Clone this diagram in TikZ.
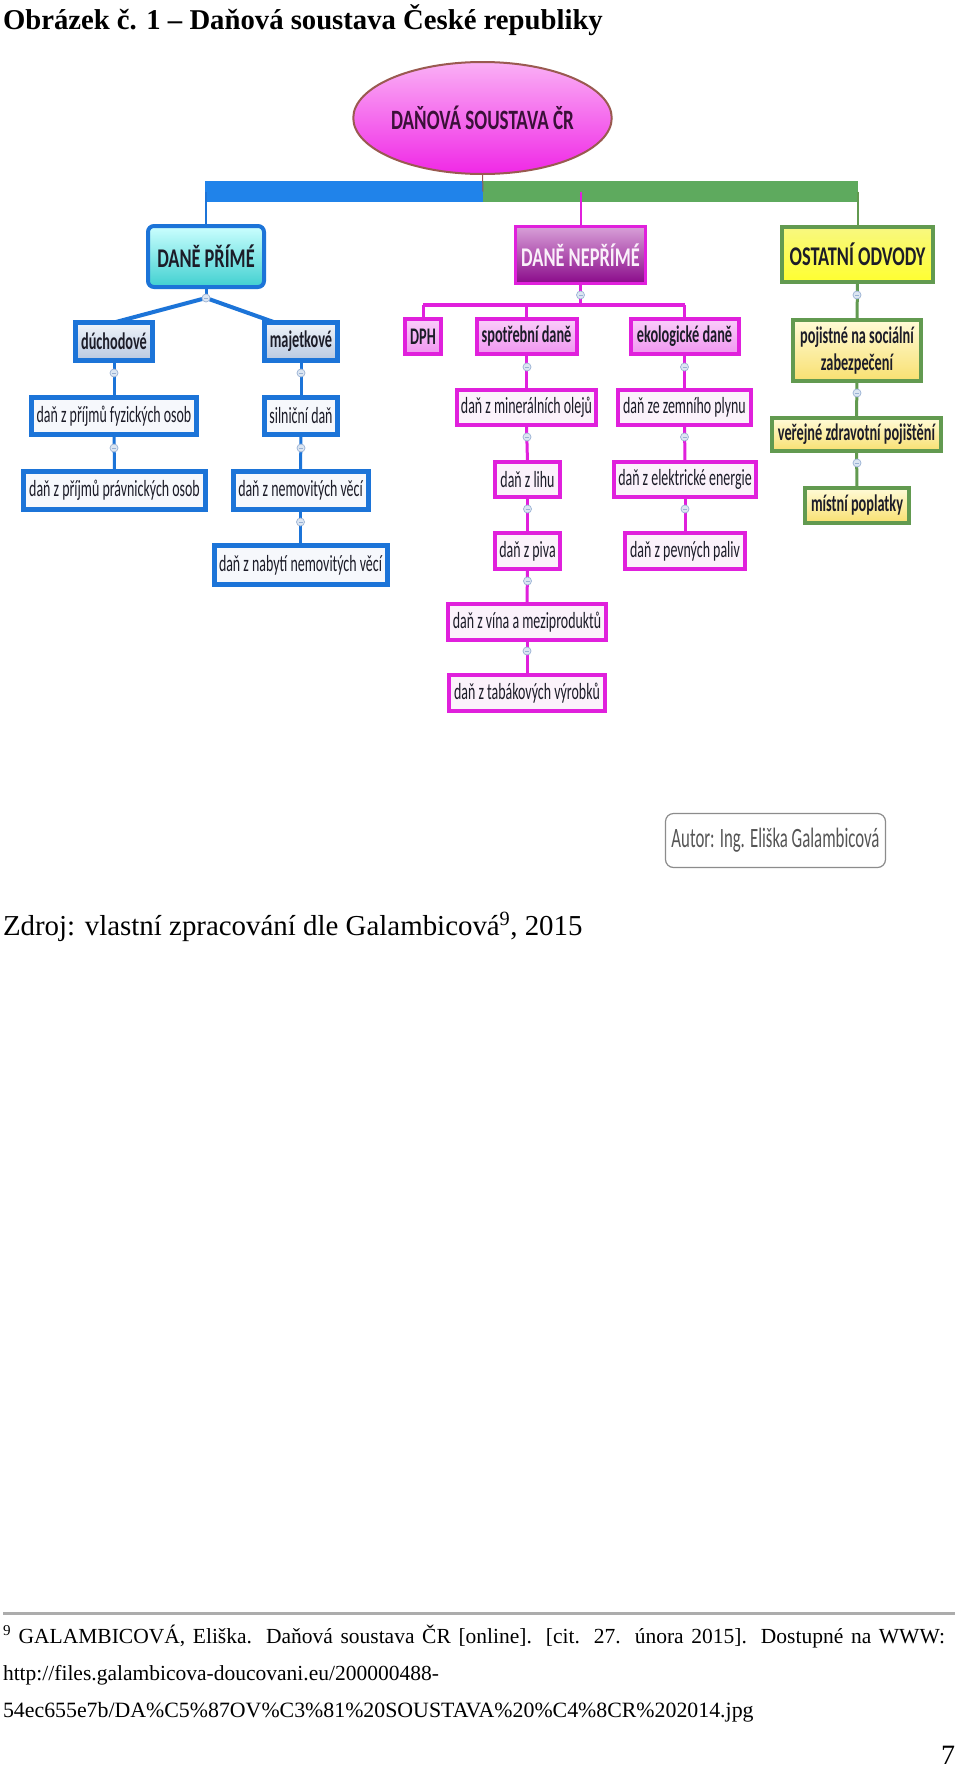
\documentclass[tikz,border=0pt]{standalone}
\usepackage{fontspec}
\setmainfont{Liberation Serif}
\newfontfamily\mmf[FakeStretch=0.68]{Carlito}
\newfontfamily\mmg[FakeStretch=0.6]{Carlito}
\usetikzlibrary{shapes.geometric,calc}
\definecolor{blueC}{HTML}{2083EA}
\definecolor{blueB}{HTML}{1C74D8}
\definecolor{greenC}{HTML}{5EAA5E}
\definecolor{greenB}{HTML}{629A50}
\definecolor{magC}{HTML}{E020DC}
\definecolor{txt}{HTML}{1C1C28}
\definecolor{knobF}{HTML}{DCE6F2}
\definecolor{knobD}{HTML}{9AB2D4}
\definecolor{rootB}{HTML}{9A5A50}
\definecolor{gray1}{HTML}{555555}
\pgfdeclarelayer{bg}
\pgfsetlayers{bg,main}
\tikzset{
  every node/.style={inner sep=0pt, outer sep=0pt},
  topfont/.style={font=\mmf\fontsize{27pt}{30pt}\selectfont\bfseries},
  midfont/.style={font=\mmg\fontsize{23.8pt}{27pt}\selectfont\bfseries},
  leaffont/.style={font=\mmg\fontsize{23.2pt}{26pt}\selectfont},
  lvlblue/.style={draw=blueB, line width=4pt, rounded corners=6pt, top color=cyan!20, bottom color={rgb,255:red,64;green,208;blue,208}, text=txt, topfont},
  lvlmag/.style={draw=magC, line width=3pt, top color={rgb,255:red,216;green,160;blue,216}, bottom color={rgb,255:red,138;green,10;blue,138}, text={rgb,255:red,250;green,240;blue,250}, topfont},
  lvlgreen/.style={draw=greenB, line width=4pt, top color={rgb,255:red,248;green,248;blue,128}, bottom color={rgb,255:red,255;green,255;blue,48}, text=txt, topfont},
  midblue/.style={draw=blueB, line width=5pt, top color={rgb,255:red,240;green,244;blue,250}, bottom color={rgb,255:red,184;green,200;blue,224}, text=txt, midfont},
  midmag/.style={draw=magC, line width=4pt, top color={rgb,255:red,250;green,205;blue,250}, bottom color={rgb,255:red,240;green,150;blue,240}, text=txt, midfont},
  midgreen/.style={draw=greenB, line width=4pt, top color={rgb,255:red,255;green,251;blue,216}, bottom color={rgb,255:red,248;green,224;blue,112}, text=txt, midfont},
  leafblue/.style={draw=blueB, line width=5pt, fill={rgb,255:red,246;green,248;blue,252}, text=txt, leaffont},
  leafmag/.style={draw=magC, line width=4pt, fill={rgb,255:red,251;green,242;blue,251}, text=txt, leaffont},
  knob/.style={circle, minimum size=8pt, fill=knobF, draw=knobD, line width=0.7pt,
    path picture={\draw[knobD, line width=0.6pt] ([xshift=-2pt]path picture bounding box.center) -- ([xshift=2pt]path picture bounding box.center);}},
  bconn/.style={draw=blueB, line width=3pt},
  mconn/.style={draw=magC, line width=3pt},
  gconn/.style={draw=greenB, line width=3pt},
}
\begin{document}
\begin{tikzpicture}[x=1pt,y=-1pt]
\useasboundingbox (0,0) rectangle (960,1767);
\begin{pgfonlayer}{bg}
\fill[white] (0,0) rectangle (960,1767);
\end{pgfonlayer}

% title
\node[anchor=base west] (title) at (3,29) {\fontsize{28.7pt}{30pt}\selectfont\bfseries Obrázek č. 1 – Daňová soustava České republiky};

% root
\node[ellipse, minimum width=245pt, minimum height=112pt, draw=rootB, line width=2pt,
  top color={rgb,255:red,250;green,176;blue,245}, bottom color={rgb,255:red,240;green,40;blue,230},
  text={rgb,255:red,58;green,16;blue,56}, font=\mmf\fontsize{28pt}{30pt}\selectfont\bfseries] (root) at (482.5,118) {DAŇOVÁ SOUSTAVA ČR};

% level 1
\node[lvlblue, minimum width=116pt, minimum height=61pt] (prime) at (206,256.5) {DANĚ PŘÍMÉ};
\node[lvlmag, minimum width=130pt, minimum height=57pt] (nep) at (580.5,255) {DANĚ NEPŘÍMÉ};
\node[lvlgreen, minimum width=151pt, minimum height=55pt] (ost) at (857.5,254.5) {OSTATNÍ ODVODY};

% left branch
\node[midblue, minimum width=77pt, minimum height=38pt] (duch) at (114,341.5) {dúchodové};
\node[midblue, minimum width=73pt, minimum height=38pt] (maj) at (301,341.5) {majetkové};
\node[leafblue, minimum width=165pt, minimum height=37pt] (fyz) at (114,416) {daň z příjmů fyzických osob};
\node[leafblue, minimum width=182pt, minimum height=38pt] (prav) at (114.5,490.5) {daň z příjmů právnických osob};
\node[leafblue, minimum width=73pt, minimum height=37pt] (siln) at (301,416) {silniční daň};
\node[leafblue, minimum width=135pt, minimum height=38pt] (nemo) at (300.5,490.5) {daň z nemovitých věcí};
\node[leafblue, minimum width=173pt, minimum height=39pt] (naby) at (300.5,565) {daň z nabytí nemovitých věcí};

% middle branch
\node[midmag, minimum width=36pt, minimum height=35pt] (dph) at (423,336.5) {DPH};
\node[midmag, minimum width=100pt, minimum height=35pt] (spot) at (526.5,336.5) {spotřební daně};
\node[midmag, minimum width=108pt, minimum height=35pt] (eko) at (684.5,336.5) {ekologické daně};
\node[leafmag, minimum width=139pt, minimum height=35pt] (miner) at (526.5,407.5) {daň z minerálních olejů};
\node[leafmag, minimum width=65pt, minimum height=35pt] (lihu) at (527.5,479.5) {daň z lihu};
\node[leafmag, minimum width=65pt, minimum height=36pt] (piva) at (527.5,551) {daň z piva};
\node[leafmag, minimum width=158pt, minimum height=36pt] (vina) at (527,622) {daň z vína a meziproduktů};
\node[leafmag, minimum width=156pt, minimum height=36pt] (taba) at (527,693) {daň z tabákových výrobků};
\node[leafmag, minimum width=133pt, minimum height=35pt] (zemn) at (684.5,407.5) {daň ze zemního plynu};
\node[leafmag, minimum width=142pt, minimum height=35pt] (elek) at (685,479.5) {daň z elektrické energie};
\node[leafmag, minimum width=120pt, minimum height=36pt] (pevn) at (685,551) {daň z pevných paliv};

% right branch
\node[midgreen, minimum width=128pt, minimum height=61pt, align=center] (poj) at (857,350.5) {pojistné na sociální\\zabezpečení};
\node[midgreen, minimum width=169pt, minimum height=33pt] (vere) at (856.5,434.5) {veřejné zdravotní pojištění};
\node[midgreen, minimum width=104pt, minimum height=35pt] (mist) at (857,505.5) {místní poplatky};

% knobs
\node[knob] (k0) at (206,298) {};
\node[knob] (k1) at (114,373) {};
\node[knob] (k2) at (114,448) {};
\node[knob] (k3) at (301,373) {};
\node[knob] (k4) at (301,448) {};
\node[knob] (k5) at (300.5,522) {};
\node[knob] (k6) at (580.5,295) {};
\node[knob] (k7) at (527,367) {};
\node[knob] (k8) at (527,437) {};
\node[knob] (k9) at (527.5,509) {};
\node[knob] (k10) at (527.5,581) {};
\node[knob] (k11) at (527,651) {};
\node[knob] (k12) at (684.5,367) {};
\node[knob] (k13) at (684.5,437) {};
\node[knob] (k14) at (685,509) {};
\node[knob] (k15) at (857,295) {};
\node[knob] (k16) at (857,393) {};
\node[knob] (k17) at (857,463) {};

% bar coordinates
\coordinate (barL) at (205,191.5);
\coordinate (barM) at (483,191.5);
\coordinate (barR) at (858,191.5);
\coordinate (mbL) at (423,305);
\coordinate (mbR) at (684.5,305);

\begin{pgfonlayer}{bg}
\draw[line width=21pt, blueC] (barL) -- (barM);
\draw[line width=21pt, greenC] (barM) -- (barR);
\draw[line width=1pt, rootB] (root.south) -- (barM);
\draw[blueB, line width=2pt] (prime.north |- barL) -- (prime.north);
\draw[magC, line width=2pt] (nep.north |- barM) -- (nep.north);
\draw[greenB, line width=2pt] (ost.north |- barR) -- (ost.north);
% left
\draw[bconn] (prime.south) -- (k0);
\draw[blueB, line width=4pt] (k0) -- (duch.north);
\draw[blueB, line width=4pt] (k0) -- ([xshift=-26pt]maj.north);
\draw[bconn] (duch.south) -- (fyz.north);
\draw[bconn] (fyz.south) -- (prav.north);
\draw[bconn] (maj.south) -- (siln.north);
\draw[bconn] (siln.south) -- (nemo.north);
\draw[bconn] (nemo.south) -- (naby.north);
% middle
\draw[mconn] (nep.south) -- (nep.south |- mbL);
\draw[magC, line width=4pt] (mbL) -- (mbR);
\draw[mconn] (mbL) -- (dph.north);
\draw[mconn] (spot.north |- mbL) -- (spot.north);
\draw[mconn] (mbR) -- (eko.north);
\draw[mconn] (spot.south) -- (miner.north);
\draw[mconn] (miner.south) -- (lihu.north);
\draw[mconn] (lihu.south) -- (piva.north);
\draw[mconn] (piva.south) -- (vina.north);
\draw[mconn] (vina.south) -- (taba.north);
\draw[mconn] (eko.south) -- (zemn.north);
\draw[mconn] (zemn.south) -- (elek.north);
\draw[mconn] (elek.south) -- (pevn.north);
% right
\draw[gconn] (ost.south) -- (poj.north);
\draw[gconn] (poj.south) -- (vere.north);
\draw[gconn] (vere.south) -- (mist.north);
\end{pgfonlayer}

% author box
\node[draw={rgb,255:red,140;green,140;blue,140}, line width=1.2pt, rounded corners=8pt, fill=white,
  minimum width=220pt, minimum height=54pt, text=gray1, font=\mmg\fontsize{28pt}{30pt}\selectfont] (autor) at (775.5,840.5) {Autor: Ing. Eliška Galambicová};

% source line
\node[anchor=base west] (zdroj) at (3,935) {\fontsize{28.9pt}{31pt}\selectfont Zdroj: vlastní zpracování dle Galambicová\textsuperscript{9}, 2015};

% footnote
\coordinate (ruleL) at (3,1613);
\coordinate (ruleR) at (955,1613);
\draw[line width=3pt, gray!65] (ruleL) -- (ruleR);
\node[anchor=base west] (fn1) at (3,1643) {\fontsize{21.5pt}{24pt}\selectfont\makebox[942pt][s]{\textsuperscript{9} GALAMBICOVÁ, Eliška. Daňová soustava ČR [online]. [cit. 27. února 2015]. Dostupné na WWW:}};
\node[anchor=base west] (fn2) at (3,1680) {\fontsize{21.5pt}{24pt}\selectfont http://files.galambicova-doucovani.eu/200000488-};
\node[anchor=base west] (fn3) at (3,1717) {\fontsize{21.85pt}{24pt}\selectfont 54ec655e7b/DA\%C5\%87OV\%C3\%81\%20SOUSTAVA\%20\%C4\%8CR\%202014.jpg};
\node[anchor=base east] (pnum) at (955,1764) {\fontsize{28pt}{30pt}\selectfont 7};
\end{tikzpicture}
\end{document}
